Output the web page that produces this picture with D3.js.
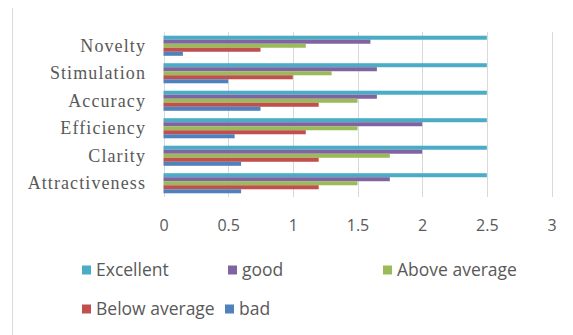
<!DOCTYPE html>
<html><head><meta charset="utf-8">
<script src="https://cdn.jsdelivr.net/npm/d3@7"></script>
<style>body{margin:0;background:#fff}svg{display:block}</style>
</head><body>
<script>
const categories = ["Novelty","Stimulation","Accuracy","Efficiency","Clarity","Attractiveness"];
const seriesNames = ["Excellent","good","Above average","Below average","bad"];
const excellent    = [2.5, 2.5, 2.5, 2.5, 2.5, 2.5];
const good         = [1.6, 1.65, 1.65, 2.0, 2.0, 1.75];
const aboveAverage = [1.1, 1.3, 1.5, 1.5, 1.75, 1.5];
const belowAverage = [0.75, 1.0, 1.2, 1.1, 1.2, 1.2];
const bad          = [0.15, 0.5, 0.75, 0.55, 0.6, 0.6];
const xTicks = [0, 0.5, 1, 1.5, 2, 2.5, 3];
const colors = ["#4bacc6","#8064a2","#9bbb59","#c0504d","#4f81bd"];

const seriesValues = [excellent, good, aboveAverage, belowAverage, bad];
const W = 573, H = 335;
const svg = d3.select("body").append("svg").attr("width", W).attr("height", H);

// chart border (left edge)
svg.append("line").attr("x1",12.5).attr("x2",12.5).attr("y1",8).attr("y2",H)
  .attr("stroke","#d9d9d9").attr("stroke-width",1);

const x = d3.scaleLinear().domain([0,3]).range([163.5, 551.5]);
const y = d3.scaleBand().domain(categories).range([32, 197]).paddingInner(0.27).paddingOuter(0.135);
const ys = d3.scaleBand().domain(seriesNames).range([0, y.bandwidth()]);

// gridlines
svg.append("g").selectAll("line").data(xTicks).join("line")
  .attr("x1", d => Math.round(x(d))+0.5).attr("x2", d => Math.round(x(d))+0.5)
  .attr("y1", 32).attr("y2", 197)
  .attr("stroke", "#d9d9d9").attr("stroke-width", 1);

// bars
const rows = [];
categories.forEach((c, i) => seriesNames.forEach((s, j) => rows.push({c, s, j, v: seriesValues[j][i]})));
svg.append("g").selectAll("rect").data(rows).join("rect")
  .attr("x", x(0)).attr("y", d => y(d.c) + ys(d.s))
  .attr("width", d => x(d.v) - x(0)).attr("height", ys.bandwidth())
  .attr("fill", d => colors[d.j]);

// x axis labels
const xAxis = d3.axisBottom(x).tickValues(xTicks).tickSize(0).tickPadding(0).tickFormat(d3.format("~g"));
const gx = svg.append("g").attr("transform", "translate(0,225)").call(xAxis);
gx.select(".domain").remove();
gx.selectAll("text").attr("dy", "0.35em").attr("font-family", "'Open Sans', sans-serif").attr("font-size", 16).attr("fill", "#595959");

// y axis labels
const yAxis = d3.axisLeft(y).tickSize(0).tickPadding(0);
const gy = svg.append("g").attr("transform", "translate(146,0)").call(yAxis);
gy.select(".domain").remove();
gy.selectAll("text").attr("font-family", "'Liberation Serif', 'Times New Roman', serif").attr("font-size", 18)
  .attr("letter-spacing", "1.1px").attr("fill", "#595959");

// legend
const legendPos = [
  {x: 82, y: 270}, {x: 228, y: 270}, {x: 383, y: 270},
  {x: 82, y: 309}, {x: 225, y: 309}
];
const lg = svg.append("g").selectAll("g").data(seriesNames).join("g")
  .attr("transform", (d,i) => `translate(${legendPos[i].x},${legendPos[i].y})`);
lg.append("rect").attr("x", 0).attr("y", -4.5).attr("width", 9).attr("height", 9)
  .attr("fill", (d,i) => colors[i]);
lg.append("text").attr("x", 14).attr("y", 0).attr("dy", "0.35em")
  .attr("font-family", "'Open Sans', sans-serif").attr("font-size", 17.5).attr("fill", "#595959")
  .text(d => d);
</script>
</body></html>
